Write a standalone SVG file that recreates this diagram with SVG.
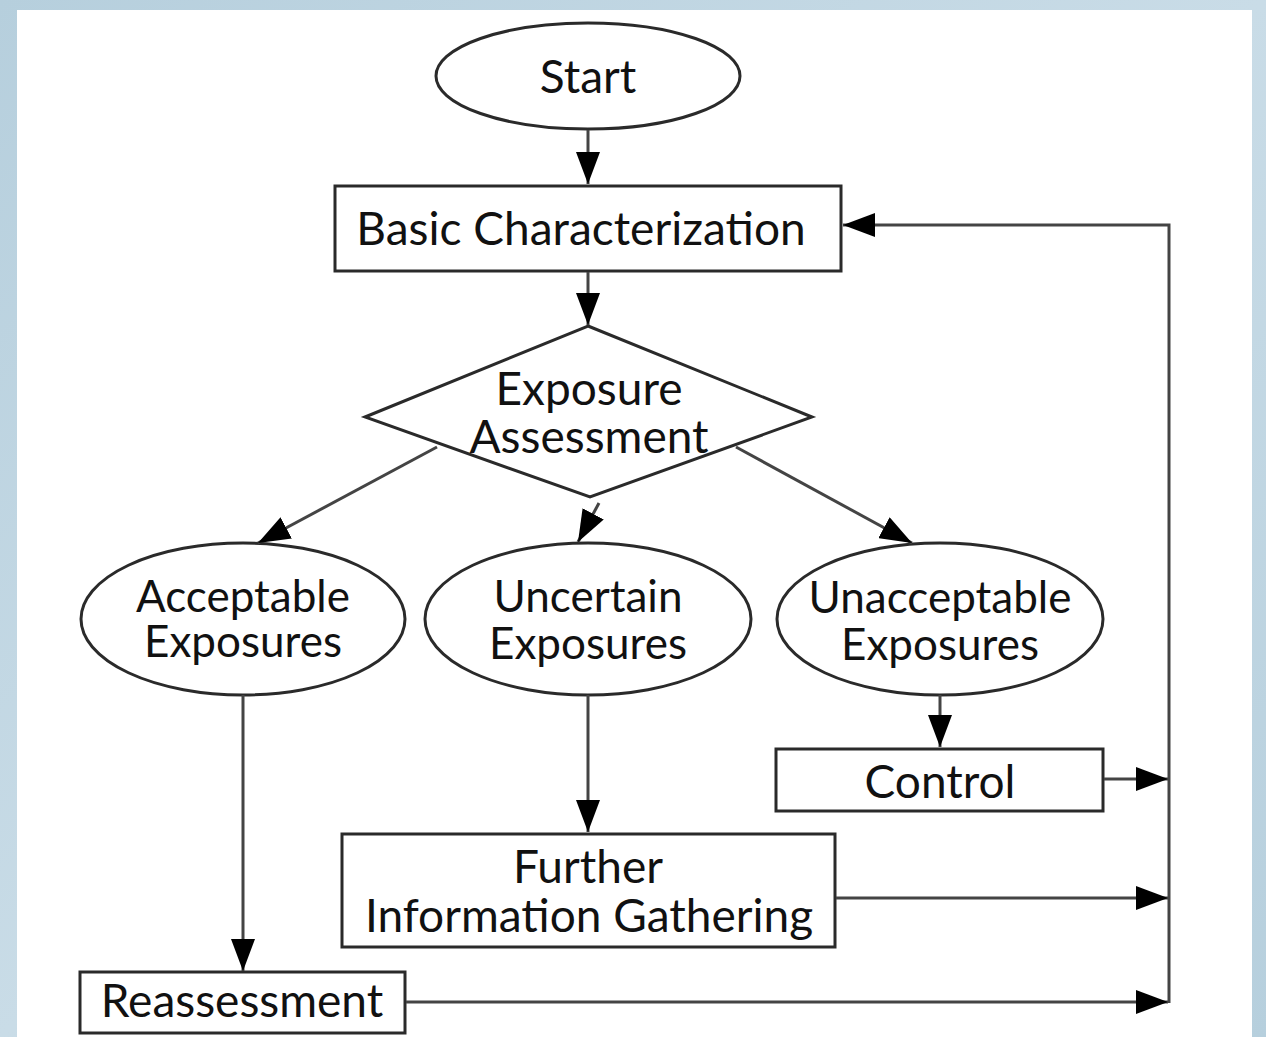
<svg xmlns="http://www.w3.org/2000/svg" width="1266" height="1037" viewBox="0 0 1266 1037">
<defs>
<linearGradient id="bg" x1="0" y1="0" x2="1" y2="1">
<stop offset="0" stop-color="#b6cfdd"/>
<stop offset="0.5" stop-color="#c9dce7"/>
<stop offset="1" stop-color="#b6cfdd"/>
</linearGradient>
<marker id="ah" viewBox="0 0 10 10" refX="10" refY="5" markerUnits="userSpaceOnUse" markerWidth="32" markerHeight="24" orient="auto" preserveAspectRatio="none">
<path d="M0,0 L10,5 L0,10 z" fill="#000"/>
</marker>
<style>
.shape{fill:#fff;stroke:#2a2a2a;stroke-width:3}
.lbl{font-family:Lato,"Open Sans","Liberation Sans",sans-serif;font-size:46px;fill:#111;text-anchor:middle}
.el{font-size:44px}
.con{fill:none;stroke:#444;stroke-width:3}
</style>
</defs>
<rect x="0" y="0" width="1266" height="1037" fill="url(#bg)"/>
<rect x="17" y="10" width="1235" height="1027" fill="#fff"/>

<g id="start">
<ellipse class="shape" cx="588" cy="76" rx="152" ry="53"/>
<text class="lbl" x="588" y="93">Start</text>
</g>
<g id="basic">
<rect class="shape" x="335" y="186" width="506" height="85"/>
<text class="lbl" x="581" y="245">Basic Characterization</text>
</g>
<g id="assessment">
<polygon class="shape" points="588,326 812,417 590,497 365,417"/>
<text class="lbl" x="589" y="405">Exposure</text>
<text class="lbl" x="589" y="453">Assessment</text>
</g>
<g id="acceptable">
<ellipse class="shape" cx="243" cy="619" rx="162" ry="76"/>
<text class="lbl el" x="243" y="612">Acceptable</text>
<text class="lbl el" x="243" y="657">Exposures</text>
</g>
<g id="uncertain">
<ellipse class="shape" cx="588" cy="619" rx="163" ry="76"/>
<text class="lbl el" x="588" y="612">Uncertain</text>
<text class="lbl el" x="588" y="659">Exposures</text>
</g>
<g id="unacceptable">
<ellipse class="shape" cx="940" cy="619" rx="163" ry="76"/>
<text class="lbl el" x="940" y="613">Unacceptable</text>
<text class="lbl el" x="940" y="660">Exposures</text>
</g>
<g id="control">
<rect class="shape" x="776" y="749" width="327" height="62"/>
<text class="lbl" x="940" y="798">Control</text>
</g>
<g id="further">
<rect class="shape" x="342" y="834" width="493" height="113"/>
<text class="lbl" x="588" y="883">Further</text>
<text class="lbl" x="589" y="932">Information Gathering</text>
</g>
<g id="reassessment">
<rect class="shape" x="80" y="972" width="325" height="61"/>
<text class="lbl" x="242" y="1017">Reassessment</text>
</g>

<g id="connectors">
<line class="con" x1="588" y1="130" x2="588" y2="184" marker-end="url(#ah)"/>
<line class="con" x1="588" y1="272" x2="588" y2="325" marker-end="url(#ah)"/>
<line class="con" x1="437" y1="447" x2="258" y2="543" marker-end="url(#ah)"/>
<line class="con" x1="599" y1="503" x2="578" y2="542" marker-end="url(#ah)"/>
<line class="con" x1="736" y1="447" x2="912" y2="543" marker-end="url(#ah)"/>
<line class="con" x1="243" y1="695" x2="243" y2="971" marker-end="url(#ah)"/>
<line class="con" x1="588" y1="695" x2="588" y2="832" marker-end="url(#ah)"/>
<line class="con" x1="940" y1="695" x2="940" y2="747" marker-end="url(#ah)"/>
<line class="con" x1="1104" y1="779" x2="1168" y2="779" marker-end="url(#ah)"/>
<line class="con" x1="836" y1="898" x2="1168" y2="898" marker-end="url(#ah)"/>
<line class="con" x1="406" y1="1002" x2="1168" y2="1002" marker-end="url(#ah)"/>
<polyline class="con" points="1169,1003 1169,225 843,225" marker-end="url(#ah)"/>
</g>
</svg>
